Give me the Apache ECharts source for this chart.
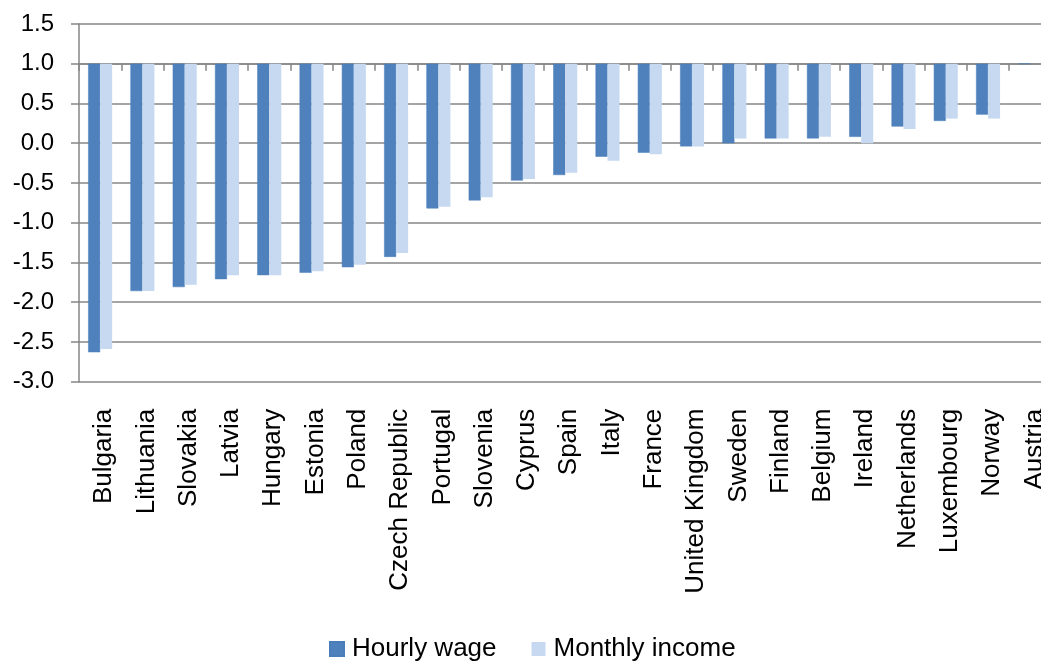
<!DOCTYPE html>
<html>
<head>
<meta charset="utf-8">
<script src="https://cdn.jsdelivr.net/npm/echarts@6/dist/echarts.min.js"></script>
<style>
html,body{margin:0;padding:0;background:#fff;}
#chart{width:1041px;height:662px;}
</style>
</head>
<body>
<div id="chart"></div>
<script>
const categories = ["Bulgaria","Lithuania","Slovakia","Latvia","Hungary","Estonia","Poland","Czech Republic","Portugal","Slovenia","Cyprus","Spain","Italy","France","United Kingdom","Sweden","Finland","Belgium","Ireland","Netherlands","Luxembourg","Norway","Austria"];
const hourlyWage = [-2.63,-1.86,-1.81,-1.71,-1.66,-1.63,-1.56,-1.43,-0.82,-0.72,-0.47,-0.40,-0.17,-0.12,-0.04,0.00,0.06,0.06,0.08,0.21,0.28,0.36,1.00];
const monthlyIncome = [-2.59,-1.86,-1.78,-1.66,-1.66,-1.61,-1.53,-1.38,-0.80,-0.68,-0.45,-0.37,-0.22,-0.14,-0.04,0.06,0.06,0.08,0.00,0.18,0.31,0.31,1.00];
const yTickMin = -3.0, yTickMax = 1.5, yTickStep = 0.5;
// Excel chart: category axis crosses the value axis at 1.0, bars hang from that baseline
const crossAt = 1.0;

const toAxis = v => +(v - crossAt).toFixed(4);
const font = '"Liberation Sans", Arial, sans-serif';
const gray = '#868686';

const chart = echarts.init(document.getElementById('chart'), null, {renderer:'canvas'});
chart.setOption({
  animation: false,
  backgroundColor: '#ffffff',
  textStyle: {fontFamily: font},
  grid: {left: 79, top: 24, right: -10.5, bottom: 280.3, containLabel: false, outerBoundsMode: 'none'},
  legend: {
    left: 324, top: 631,
    itemWidth: 14, itemHeight: 14, itemGap: 35,
    icon: 'rect',
    textStyle: {fontSize: 26, color: '#000', fontFamily: font, padding: [0,0,0,3]},
    data: ['Hourly wage','Monthly income']
  },
  xAxis: [
    {
      type: 'category', data: categories, position: 'bottom',
      axisLine: {show: false, onZero: false},
      axisTick: {show: false},
      axisLabel: {rotate: 90, interval: 0, fontSize: 26, color: '#000', margin: 27, fontFamily: font,
                  verticalAlign: 'top', lineHeight: 8},
      splitLine: {show: false}
    },
    {
      type: 'category', data: categories, position: 'bottom',
      axisLine: {show: true, onZero: true, lineStyle: {color: gray, width: 1.5}},
      axisTick: {show: true, inside: false, length: 7, alignWithLabel: false, interval: 0, lineStyle: {color: gray, width: 1.5}},
      axisLabel: {show: false},
      splitLine: {show: false}
    }
  ],
  yAxis: {
    type: 'value',
    min: toAxis(yTickMin), max: toAxis(yTickMax), interval: yTickStep,
    axisLine: {show: true, lineStyle: {color: gray, width: 1.5}},
    axisTick: {show: true, length: 8, lineStyle: {color: gray, width: 1.5}},
    axisLabel: {
      fontSize: 24, color: '#000', margin: 25, fontFamily: font,
      formatter: v => (v + crossAt).toFixed(1)
    },
    splitLine: {show: true, lineStyle: {color: gray, width: 1.5}}
  },
  series: [
    {
      name: 'Hourly wage', type: 'bar', xAxisIndex: 0,
      data: hourlyWage.map(toAxis),
      barWidth: 12, barGap: '0%',
      itemStyle: {color: '#4F81BD', borderColor: '#4A7EBB', borderWidth: 0.5}
    },
    {
      name: 'Monthly income', type: 'bar', xAxisIndex: 0,
      data: monthlyIncome.map(toAxis),
      barWidth: 12, barGap: '0%',
      itemStyle: {color: '#C6D9F1'}
    }
  ]
});
</script>
</body>
</html>
